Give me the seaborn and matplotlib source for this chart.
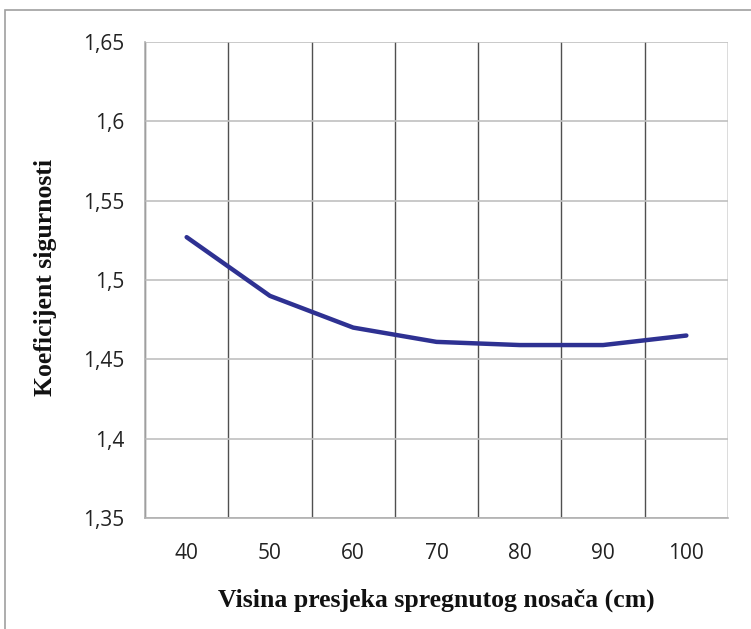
import matplotlib
matplotlib.use("Agg")
import matplotlib.pyplot as plt
import matplotlib.patches as patches
from matplotlib.ticker import FixedLocator, FuncFormatter
import seaborn as sns
import pandas as pd

# data
heights = [40, 50, 60, 70, 80, 90, 100]
safety = [1.527, 1.490, 1.470, 1.461, 1.459, 1.459, 1.465]
y_ticks = [1.35, 1.40, 1.45, 1.50, 1.55, 1.60, 1.65]

df = pd.DataFrame({"h": heights, "k": safety})

sns.set_style("white")
fig = plt.figure(figsize=(7.51, 6.29), dpi=100)
ax = fig.add_axes([145 / 751, 1 - 518 / 629, (728 - 145) / 751, (518 - 42) / 629])

sns.lineplot(data=df, x="h", y="k", ax=ax, color="#2E3192", linewidth=3.2)

ax.set_xlim(35, 105)
ax.set_ylim(1.35, 1.65)

# category labels in the middle, ticks + gridlines on the boundaries
ax.xaxis.set_major_locator(FixedLocator(heights))
ax.xaxis.set_minor_locator(FixedLocator([h - 5 for h in heights] + [105]))
ax.yaxis.set_major_locator(FixedLocator(y_ticks))
ax.yaxis.set_major_formatter(FuncFormatter(lambda v, p: f"{v:g}".replace(".", ",")))

ax.tick_params(axis="x", which="major", length=0, pad=18, labelsize=15, labelcolor="#222222")
ax.tick_params(axis="x", which="minor", length=5, color="#b0b0b0", width=1)
ax.tick_params(axis="y", which="major", length=5, color="#b0b0b0", width=1, pad=10,
               labelsize=15, labelcolor="#222222")
for lab in ax.get_xticklabels() + ax.get_yticklabels():
    lab.set_family("Open Sans")

ax.grid(True, axis="y", which="major", color="#c0c0c0", linewidth=1.2)
ax.grid(True, axis="x", which="minor", color="#505050", linewidth=1.0)
ax.set_axisbelow(True)

for s in ["top", "right"]:
    ax.spines[s].set_visible(False)
for s in ["left", "bottom"]:
    ax.spines[s].set_color("#b0b0b0")
    ax.spines[s].set_linewidth(1.2)

ax.set_xlabel("Visina presjeka spregnutog nosača (cm)", family="Liberation Serif",
              fontweight="bold", fontsize=18.5, color="#111111")
ax.set_ylabel("Koeficijent sigurnosti", family="Liberation Serif",
              fontweight="bold", fontsize=18.5, color="#111111")
ax.xaxis.set_label_coords(0.5, -0.148)
ax.yaxis.set_label_coords(-0.170, 0.505)
ax.yaxis.label.set_va("center")

# chart-area border like the reference
fig.patches.append(patches.Rectangle((5 / 751, -0.05), 1.1, 1 - 10 / 629 + 0.05,
                                     transform=fig.transFigure, fill=False,
                                     edgecolor="#a0a0a0", linewidth=1.2))

fig.savefig("out.png", dpi=100)
